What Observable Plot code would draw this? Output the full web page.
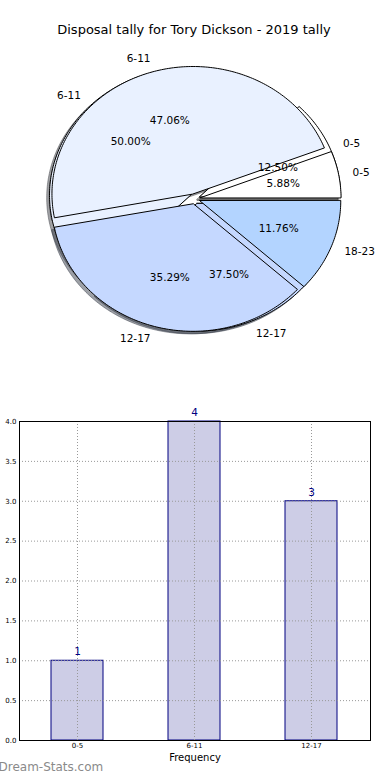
<!DOCTYPE html>
<html><head><meta charset="utf-8">
<script src="https://cdn.jsdelivr.net/npm/d3@7"></script>
<script src="https://cdn.jsdelivr.net/npm/@observablehq/plot@0.6"></script>
<style>
body{margin:0;background:#fff;font-family:"DejaVu Sans",sans-serif;}
#title{height:44px;box-sizing:border-box;padding-top:22px;line-height:16px;font-size:13px;text-align:center;color:#000;width:388px;}
svg{display:block}
</style></head><body>
<div id="chart" style="width:390px"><div id="title">Disposal tally for Tory Dickson - 2019 tally</div></div>
<script>
// Pie drawn underneath (2019 tally)
const pieALabels = ["0-5", "6-11", "12-17"];
const pieAValues = [1, 4, 3];
const pieAColors = ["#ffffff", "#e9f1ff", "#c5d8ff"];
// Pie drawn on top
const pieBLabels = ["0-5", "6-11", "12-17", "18-23"];
const pieBValues = [1, 8, 6, 2];
const pieBColors = ["#ffffff", "#e9f1ff", "#c5d8ff", "#b3d4ff"];
const explodeAmount = 0.04;

// Bar chart
const barLabels = ["0-5", "6-11", "12-17"];
const barValues = [1, 4, 3];
const yTicks = [0, 0.5, 1, 1.5, 2, 2.5, 3, 3.5, 4];

function slices(labels, values, colors, explode) {
  const total = d3.sum(values);
  let a0 = 0;
  return labels.map((lab, i) => {
    const a1 = a0 + values[i] / total * 360;
    const mid = (a0 + a1) / 2 * Math.PI / 180;
    const ox = explode * Math.cos(mid), oy = explode * Math.sin(mid);
    const pts = [{x: ox, y: oy}];
    const n = Math.max(2, Math.ceil(a1 - a0));
    for (let k = 0; k <= n; k++) {
      const t = (a0 + (a1 - a0) * k / n) * Math.PI / 180;
      pts.push({x: ox + Math.cos(t), y: oy + Math.sin(t)});
    }
    const c = d3.rgb(colors[i]);
    const shadow = `rgb(${c.r * 0.3},${c.g * 0.3},${c.b * 0.3})`;
    const s = {
      label: lab, color: colors[i], shadow, pts,
      shadowPts: pts.map(p => ({x: p.x - 0.02, y: p.y - 0.02})),
      lx: ox + 1.1 * Math.cos(mid), ly: oy + 1.1 * Math.sin(mid),
      px: ox + 0.6 * Math.cos(mid), py: oy + 0.6 * Math.sin(mid),
      pct: (values[i] / total * 100).toFixed(2) + "%"
    };
    a0 = a1;
    return s;
  });
}

const sA = slices(pieALabels, pieAValues, pieAColors, explodeAmount);
const sB = slices(pieBLabels, pieBValues, pieBColors, explodeAmount);
const all = [...sA, ...sB];

const pieMarks = [];
for (const s of all) {
  pieMarks.push(Plot.line(s.shadowPts, {x: "x", y: "y", fill: s.shadow, fillOpacity: 0.5, stroke: s.shadow, strokeOpacity: 0.5, strokeWidth: 1, curve: "linear-closed"}));
}
for (const s of all) {
  pieMarks.push(Plot.line(s.pts, {x: "x", y: "y", fill: s.color, stroke: "black", strokeWidth: 1, curve: "linear-closed", strokeLinejoin: "miter"}));
}
pieMarks.push(Plot.text(all.filter(s => s.lx >= 0), {x: "lx", y: "ly", text: "label", textAnchor: "start", fontSize: 10.5, fill: "black"}));
pieMarks.push(Plot.text(all.filter(s => s.lx < 0), {x: "lx", y: "ly", text: "label", textAnchor: "end", fontSize: 10.5, fill: "black"}));
pieMarks.push(Plot.text(all, {x: "px", y: "py", text: "pct", textAnchor: "middle", fontSize: 10.5, fill: "black"}));

const pie = Plot.plot({
  width: 390, height: 356, margin: 0,
  axis: null,
  style: {fontFamily: "DejaVu Sans", background: "white", overflow: "visible"},
  x: {domain: [-1, 1], range: [53, 335]},
  y: {domain: [-1, 1], range: [281.9, 26.9]},
  marks: pieMarks
});
document.getElementById("chart").appendChild(pie);

const barData = barLabels.map((l, i) => ({label: l, value: barValues[i]}));
const bars = Plot.plot({
  width: 390, height: 380,
  marginTop: 21, marginBottom: 40, marginLeft: 19, marginRight: 20,
  style: {fontFamily: "DejaVu Sans", background: "white", overflow: "visible"},
  x: {domain: barLabels, paddingInner: 0.555, paddingOuter: 0.2775, align: 0.5},
  y: {domain: [0, 4]},
  marks: [
    Plot.barY(barData, {x: "label", y: "value", fill: "#cdcde6", stroke: "#000080", strokeWidth: 1}),
    Plot.gridY(yTicks, {stroke: "#999", strokeOpacity: 1, strokeDasharray: "1,2", strokeWidth: 1}),
    Plot.gridX({stroke: "#999", strokeOpacity: 1, strokeDasharray: "1,2", strokeWidth: 1}),
    Plot.text(barData, {x: "label", y: "value", text: d => String(d.value), dy: -9, fill: "#000080", fontSize: 10.5}),
    Plot.frame({stroke: "black", strokeWidth: 1}),
    Plot.axisY(yTicks, {tickFormat: d3.format(".1f"), tickSize: 0, tickPadding: 3, fontSize: 7, label: null}),
    Plot.axisX({tickSize: 0, tickPadding: 3, fontSize: 7, label: null}),
    Plot.text(["Frequency"], {text: d => d, frameAnchor: "bottom", dy: 20, fontSize: 10, fill: "black"}),
    Plot.text(["Dream-Stats.com"], {text: d => d, frameAnchor: "bottom-left", dx: -21, dy: 30, textAnchor: "start", fontSize: 12, fill: "#8a8a8a"})
  ]
});
document.getElementById("chart").appendChild(bars);
</script>
</body></html>
